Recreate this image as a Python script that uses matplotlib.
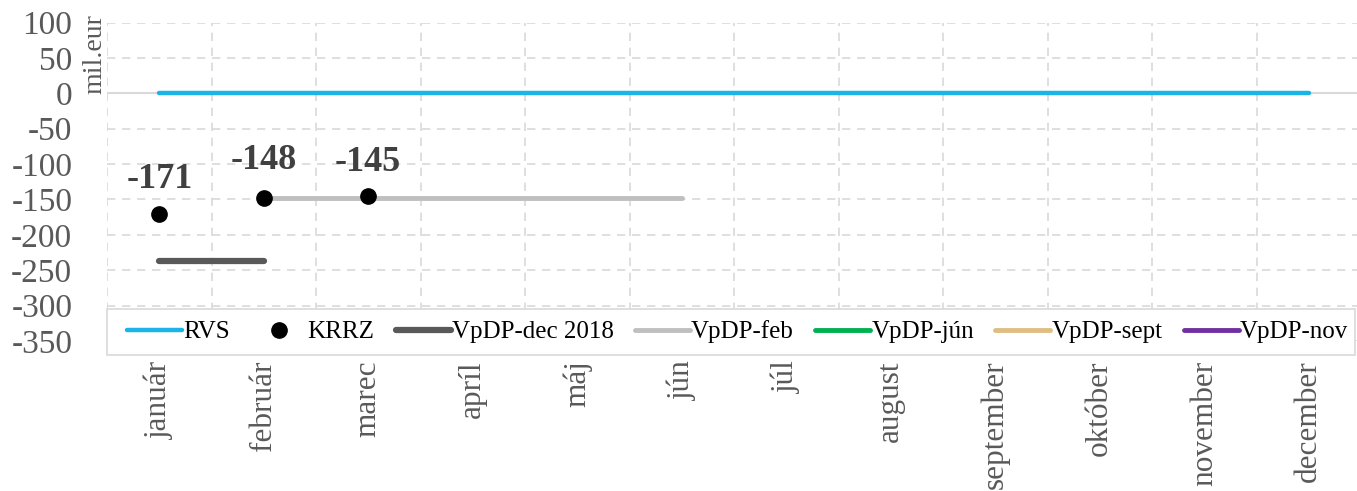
import numpy as np
import matplotlib.pyplot as plt
from matplotlib.patches import Rectangle

months = ['január', 'február', 'marec', 'apríl', 'máj', 'jún', 'júl',
          'august', 'september', 'október', 'november', 'december']

rvs = [0] * 12
krrz = [-171, -148, -145]
vpdp_dec = [-237, -237]
vpdp_feb = [-148, -148, -148, -148, -148]

plt.rcParams['font.family'] = ['Liberation Serif', 'DejaVu Serif']
plt.rcParams['axes.unicode_minus'] = False

W, H = 1357, 491
fig = plt.figure(figsize=(W / 100, H / 100), dpi=100)
ax = fig.add_axes([107 / W, 1 - 341 / H, 1254 / W, 318.5 / H])

x = np.arange(12)
ax.plot(x, rvs, color='#1AB4E8', lw=3.2, solid_capstyle='round', label='RVS', zorder=3)
ax.plot(x[:3], krrz, 'o', color='black', ms=11, label='KRRZ', zorder=4)
ax.plot(x[:2], vpdp_dec, color='#595959', lw=4.5, solid_capstyle='round',
        label='VpDP-dec 2018', zorder=3)
ax.plot(x[1:6], vpdp_feb, color='#BFBFBF', lw=3.5, solid_capstyle='round',
        label='VpDP-feb', zorder=3)
ax.plot([], [], color='#00B050', lw=3.5, solid_capstyle='round', label='VpDP-jún')
ax.plot([], [], color='#DFBE84', lw=3.5, solid_capstyle='round', label='VpDP-sept')
ax.plot([], [], color='#7030A0', lw=3.5, solid_capstyle='round', label='VpDP-nov')

offsets = [25, 27, 24]
for i, v in enumerate(krrz):
    ax.annotate(str(v), (i, v), xytext=(0, offsets[i]), textcoords='offset points',
                ha='center', va='center', fontsize=26, fontweight='bold', color='#404040')

ax.set_xlim(-0.5, 11.5)
ax.set_ylim(-350, 100)
ax.set_yticks(np.arange(-350, 101, 50))
ax.set_xticks(x)
ax.set_xticklabels(months, rotation=90, va='top', fontsize=22.5, color='#595959')
ax.set_xticks(np.arange(-0.5, 12, 1), minor=True)
ax.tick_params(axis='x', which='both', length=0, pad=14)
ax.tick_params(axis='y', length=0, labelsize=24, labelcolor='#595959', pad=25)
for s in ax.spines.values():
    s.set_visible(False)

ax.grid(axis='y', which='major', color='#D9D9D9', ls=(0, (5, 4)), lw=1.2)
ax.grid(axis='x', which='minor', color='#D9D9D9', ls=(0, (5, 4)), lw=1.2)
ax.axhline(0, color='#D9D9D9', lw=1.5, zorder=1)

ax.text(0.0, 1.025, 'mil.eur', rotation=90, ha='right', va='top', fontsize=20,
        color='#595959', transform=ax.transAxes)

# legend box drawn separately so it spans the full plot width
box = Rectangle((107 / W, 1 - 355 / H), (1355 - 107) / W, 46 / H,
                transform=fig.transFigure, facecolor='white', edgecolor='#D9D9D9',
                lw=1.2, zorder=2)
fig.patches.append(box)

handles, labels = ax.get_legend_handles_labels()
leg = fig.legend(handles, labels, ncol=7, loc='center left',
                 bbox_to_anchor=(127 / W, 1 - 332 / H), bbox_transform=fig.transFigure,
                 fontsize=18, handlelength=2.2, handletextpad=0.05, columnspacing=0.85,
                 frameon=False, borderpad=0, borderaxespad=0)
leg.set_zorder(5)

fig.savefig('out.png', dpi=100)
